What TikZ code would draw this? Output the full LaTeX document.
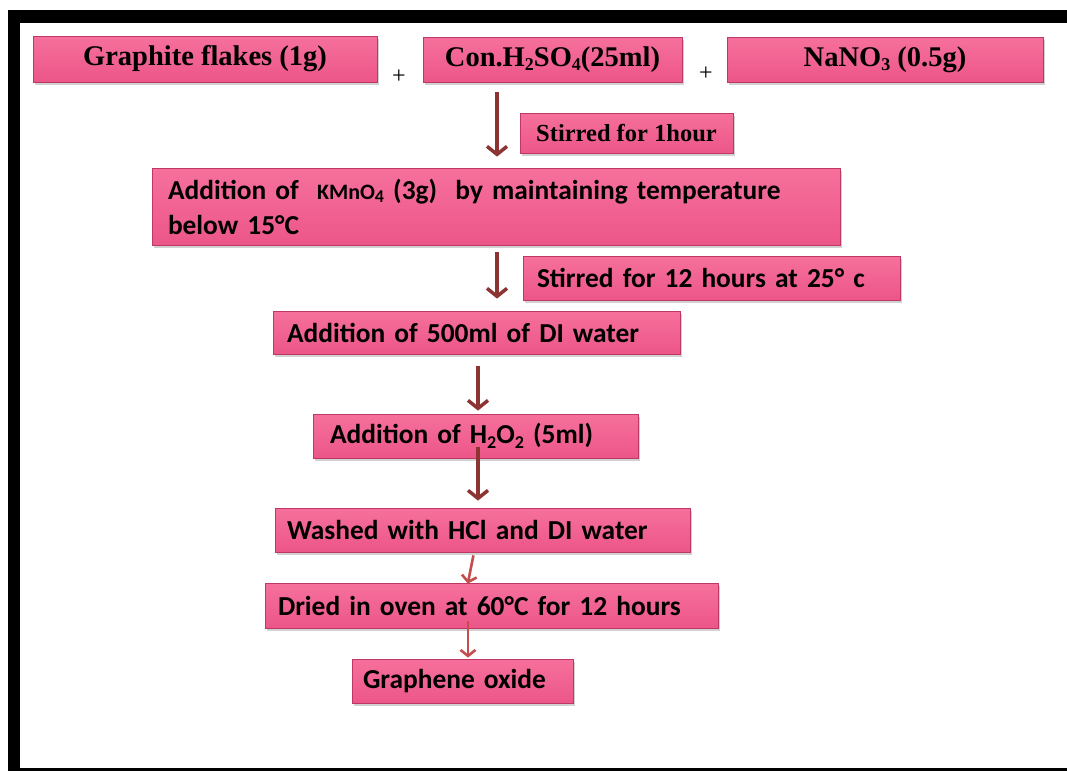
\documentclass[tikz,border=0pt]{standalone}
\usepackage{fontspec}
\setmainfont{Carlito}
\newfontfamily\tnr{Liberation Serif}
\usetikzlibrary{arrows.meta,shadows}
\definecolor{pinktop}{RGB}{246,112,156}
\definecolor{pinkbot}{RGB}{236,86,136}
\definecolor{pinkedge}{RGB}{190,56,100}
\definecolor{arrdark}{RGB}{140,52,52}
\definecolor{arrlight}{RGB}{196,78,78}
\newcommand\sbs[1]{\raisebox{-0.35ex}{\fontsize{18}{18}\selectfont #1}}
\tikzset{
  box/.style={rectangle, inner sep=0pt, top color=pinktop, bottom color=pinkbot,
    draw=pinkedge, line width=0.8pt, text=black,
    drop shadow={shadow xshift=1.5pt, shadow yshift=-2.5pt, fill=black!40, opacity=0.45}},
  serifbox/.style={box, font=\tnr\bfseries\fontsize{28.5}{32}\selectfont},
  sansbox/.style={box, font=\bfseries\fontsize{27.4}{35}\selectfont, align=left},
  plus/.style={font=\tnr\fontsize{24}{24}\selectfont, inner sep=0pt},
  arrA/.style={draw=arrdark, line width=3.5pt, -{Straight Barb[length=8pt,width=20pt]}},
  arrB/.style={draw=arrlight, line width=2.6pt, -{Straight Barb[length=6pt,width=15pt]}}
}
\begin{document}
\begin{tikzpicture}[x=1pt,y=-1pt]
\useasboundingbox (0,0) rectangle (1067,771);
% frame
\fill[black] (8,10) rectangle (1067,23);
\fill[black] (8,10) rectangle (20,771);
\fill[black] (8,768) rectangle (1067,771);
% top row
\node[serifbox, minimum width=344, minimum height=46] (gr) at (205,59) {\raisebox{-2pt}{Graphite flakes (1g)}};
\node[serifbox, minimum width=259, minimum height=45] (con) at (552.5,59.5) {\raisebox{-2pt}{Con.H\sbs{2}SO\sbs{4}(25ml)}};
\node[serifbox, minimum width=316, minimum height=45] (na) at (885,59.5) {\raisebox{-2pt}{NaNO\sbs{3} (0.5g)}};
\node[plus] (p1) at (399,77) {+};
\node[plus] (p2) at (706,74) {+};
\node[serifbox, font=\tnr\bfseries\fontsize{24.5}{28}\selectfont, minimum width=213, minimum height=40] (s1) at (626.5,133) {Stirred for 1hour};
% steps
\node[sansbox, minimum width=688, minimum height=77, text width=656] (km) at (496,206.5)
  {Addition of \ {\fontsize{22}{22}\selectfont KMnO\sbs{4}} (3g) \ by maintaining temperature\\below 15°C};
\node[sansbox, minimum width=377, minimum height=44, text width=349] (s12) at (711.5,278) {Stirred for 12 hours at 25° c};
\node[sansbox, minimum width=407, minimum height=43, text width=379] (di) at (476.5,332.5) {Addition of 500ml of DI water};
\node[sansbox, minimum width=325, minimum height=44, text width=291] (hp) at (475.5,436) {Addition of H\sbs{2}O\sbs{2} (5ml)};
\node[sansbox, minimum width=415, minimum height=44, text width=391] (wa) at (482.5,530) {Washed with HCl and DI water};
\node[sansbox, minimum width=453, minimum height=45, text width=427] (dr) at (491.5,605.5) {Dried in oven at 60°C for 12 hours};
\node[sansbox, minimum width=221, minimum height=44, text width=199] (go) at (462.5,681) {Graphene oxide};
% arrows
\draw[arrA, shorten <=10pt, shorten >=11pt] ([xshift=-55.5pt]con.south) -- ([xshift=1pt]km.north);
\draw[arrA, shorten <=7pt, shorten >=12pt] ([xshift=1pt]km.south) -- ([xshift=20.5pt]di.north);
\draw[arrA, shorten <=12pt, shorten >=3pt] ([xshift=1.5pt]di.south) -- ([xshift=2.5pt]hp.north);
\draw[arrA, shorten <=-11pt, shorten >=7pt] ([xshift=2.5pt]hp.south) -- ([xshift=-4.5pt]wa.north);
\draw[arrB, shorten <=3pt, shorten >=-1pt] ([xshift=-8.5pt]wa.south) -- ([xshift=-23.5pt]dr.north);
\draw[arrB, shorten <=-7pt, shorten >=1pt] ([xshift=-23.5pt]dr.south) -- ([xshift=5.5pt]go.north);
\end{tikzpicture}
\end{document}
